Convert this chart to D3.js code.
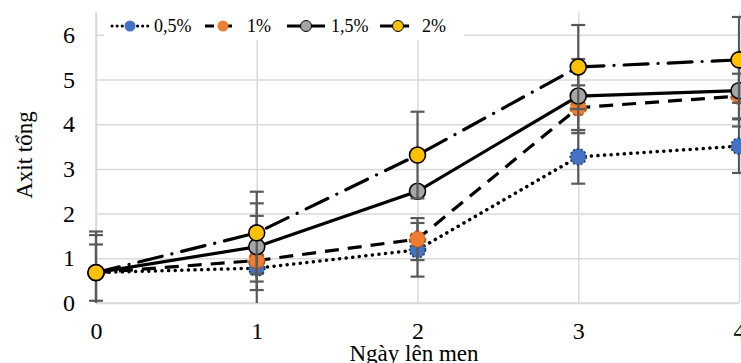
<!DOCTYPE html>
<html>
<head>
<meta charset="utf-8">
<script src="https://cdn.jsdelivr.net/npm/d3@7"></script>
<style>
  body { margin: 0; background: #fff; }
  svg text { font-family: "Liberation Serif", "DejaVu Serif", serif; }
</style>
</head>
<body>
<div id="chart"></div>
<script>
// data
const days = [0, 1, 2, 3, 4];
const seriesNames = ["0,5%", "1%", "1,5%", "2%"];
const acid05 = [0.68, 0.78, 1.19, 3.27, 3.51];
const acid1 = [0.68, 0.95, 1.43, 4.37, 4.63];
const acid15 = [0.68, 1.26, 2.50, 4.63, 4.75];
const acid2 = [0.68, 1.57, 3.31, 5.28, 5.44];
const err05 = [0.10, 0.30, 0.60, 0.60, 0.60];
const err1 = [0.84, 1.00, 0.47, 0.50, 0.50];
const err15 = [0.63, 0.97, 0.10, 0.83, 0.80];
const err2 = [0.92, 0.92, 0.97, 0.94, 0.96];
const yTicks = [0, 1, 2, 3, 4, 5, 6];

let W = 741, H = 363;
let svg = d3.select("#chart").append("svg")
  .attr("width", W)
  .attr("height", H)

let x = d3.scaleLinear().domain([0, 4]).range([96, 739]);
let y = d3.scaleLinear().domain([0, 6.5]).range([303, 12.5]);

// gridlines
svg.append("g")
  .attr("transform", "translate(96,0)")
  .call(d3.axisLeft(y).tickValues(yTicks).tickSize(-(739 - 96)).tickFormat(""))
  .call(g => g.select(".domain").remove())
  .call(g => g.selectAll("line").attr("stroke", "#d9d9d9").attr("stroke-width", 1.5));

svg.append("g")
  .attr("transform", "translate(0,303)")
  .call(d3.axisBottom(x).tickValues(days).tickSize(-(303 - 12.5)).tickFormat(""))
  .call(g => g.select(".domain").remove())
  .call(g => g.selectAll("line").attr("stroke", "#d9d9d9").attr("stroke-width", 1.5));

// axis lines
svg.append("line").attr("x1", 96).attr("x2", 739).attr("y1", 303).attr("y2", 303)
  .attr("stroke", "#d9d9d9").attr("stroke-width", 1.5);
svg.append("line").attr("x1", 96).attr("x2", 96).attr("y1", 12.5).attr("y2", 303)
  .attr("stroke", "#d9d9d9").attr("stroke-width", 1.5);

// tick labels
svg.append("g")
  .attr("transform", "translate(96,0)")
  .call(d3.axisLeft(y).tickValues(yTicks).tickSize(0).tickPadding(21).tickFormat(d3.format("d")))
  .call(g => g.select(".domain").remove())
  .call(g => g.selectAll("text").attr("font-size", 24).attr("fill", "#000"));

svg.append("g")
  .attr("transform", "translate(0,303)")
  .call(d3.axisBottom(x).tickValues(days).tickSize(0).tickPadding(19).tickFormat(d3.format("d")))
  .call(g => g.select(".domain").remove())
  .call(g => g.selectAll("text").attr("font-size", 24).attr("fill", "#000"));

// axis titles
svg.append("text")
  .attr("x", 414).attr("y", 361)
  .attr("text-anchor", "middle")
  .attr("font-size", 23)
  .text("Ngày lên men");

svg.append("text")
  .attr("transform", "translate(32,155) rotate(-90)")
  .attr("text-anchor", "middle")
  .attr("font-size", 23)
  .text("Axit tổng");

// series
let series = [
  { name: seriesNames[0], vals: acid05, err: err05, fill: "#4472C4", dash: "0.1,6.5", cap: "round",
    mStroke: "#1f3864", mDash: "2,2" },
  { name: seriesNames[1], vals: acid1, err: err1, fill: "#ED7D31", dash: "14,9", cap: "butt",
    mStroke: "#b5551c", mDash: "4,3" },
  { name: seriesNames[2], vals: acid15, err: err15, fill: "#A5A5A5", dash: null, cap: "butt",
    mStroke: "#000", mDash: null },
  { name: seriesNames[3], vals: acid2, err: err2, fill: "#FFC000", dash: "24,10,0.1,10", cap: "round",
    mStroke: "#000", mDash: null }
];

svg.append("clipPath").attr("id", "plot")
  .append("rect").attr("x", 0).attr("y", 0).attr("width", W).attr("height", 303);

let line = d3.line().x((d, i) => x(days[i])).y(d => y(d));
let capW = 7;

series.forEach(s => {
  let g = svg.append("g");
  // error bars
  let eb = g.append("g").attr("clip-path", "url(#plot)");
  days.forEach((d, i) => {
    let lo = s.vals[i] - s.err[i], hi = s.vals[i] + s.err[i];
    eb.append("line")
      .attr("x1", x(d)).attr("x2", x(d))
      .attr("y1", y(lo)).attr("y2", y(hi))
      .attr("stroke", "#595959").attr("stroke-width", 2.2);
    [lo, hi].forEach(v => {
      eb.append("line")
        .attr("x1", x(d) - capW).attr("x2", x(d) + capW)
        .attr("y1", y(v)).attr("y2", y(v))
        .attr("stroke", "#595959").attr("stroke-width", 2.2);
    });
  });
  // line
  g.append("path")
    .attr("d", line(s.vals))
    .attr("fill", "none")
    .attr("stroke", "#000")
    .attr("stroke-width", s.dash && s.dash.startsWith("0.1") ? 3.5 : 3.2)
    .attr("stroke-dasharray", s.dash)
    .attr("stroke-linecap", s.cap);
  // markers
  g.selectAll("circle")
    .data(s.vals)
    .enter()
    .append("circle")
    .attr("cx", (d, i) => x(days[i]))
    .attr("cy", d => y(d))
    .attr("r", 8)
    .attr("fill", s.fill)
    .attr("stroke", s.mStroke)
    .attr("stroke-width", 1.6)
    .attr("stroke-dasharray", s.mDash);
});

// legend
let legend = svg.append("g");
legend.append("rect")
  .attr("x", 104).attr("y", 12).attr("width", 360).attr("height", 28)
  .attr("fill", "#fff");
let legX = [112, 205, 287, 380];
let legW = [36, 36, 38, 36];
series.forEach((s, i) => {
  let lg = legend.append("g").attr("transform", `translate(${legX[i]},26)`);
  lg.append("line")
    .attr("x1", 0).attr("x2", legW[i])
    .attr("stroke", "#000")
    .attr("stroke-width", 3)
    .attr("stroke-dasharray", i == 0 ? "0.1,5" : i == 1 ? "9,9" : i == 3 ? "14,3,0.1,3,9" : null)
    .attr("stroke-linecap", i == 0 ? "round" : "butt");
  lg.append("circle")
    .attr("cx", legW[i] / 2).attr("cy", 0).attr("r", 5.5)
    .attr("fill", s.fill)
    .attr("stroke", i >= 2 ? "#000" : "none")
    .attr("stroke-width", 1);
  lg.append("text")
    .attr("x", legW[i] + 6).attr("y", 6)
    .attr("font-size", 18)
    .text(s.name);
});
</script>
</body>
</html>
